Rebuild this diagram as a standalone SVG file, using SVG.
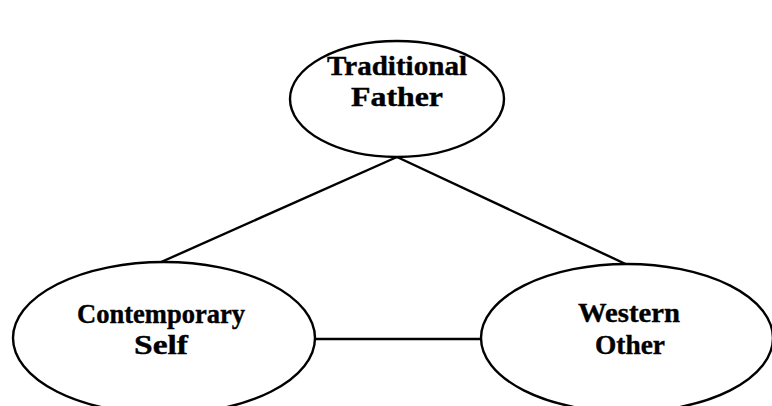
<svg xmlns="http://www.w3.org/2000/svg" width="772" height="406" viewBox="0 0 772 406">
<style>
.node ellipse{fill:#fff;stroke:#000;stroke-width:2.4}
.lbl{font-family:"Liberation Serif","Times New Roman",serif;font-weight:bold;font-size:28px;fill:#000;text-anchor:middle;stroke:#000;stroke-width:0.4}
.conn line{stroke:#000;stroke-width:2.4}
</style>
<rect width="772" height="406" fill="#fff"/>
<g class="conn">
<line x1="397" y1="157" x2="150" y2="267"/>
<line x1="397" y1="157" x2="632" y2="267"/>
<line x1="315" y1="339" x2="481" y2="339"/>
</g>
<g id="traditional-father" class="node">
<ellipse cx="397" cy="99" rx="107" ry="58"/>
<text class="lbl" x="397" y="75" textLength="140" lengthAdjust="spacingAndGlyphs">Traditional</text>
<text class="lbl" x="397" y="106" textLength="92" lengthAdjust="spacingAndGlyphs">Father</text>
</g>
<g id="contemporary-self" class="node">
<ellipse cx="164" cy="338" rx="151" ry="76"/>
<text class="lbl" x="161" y="323" textLength="168" lengthAdjust="spacingAndGlyphs">Contemporary</text>
<text class="lbl" x="161" y="354" textLength="54" lengthAdjust="spacingAndGlyphs">Self</text>
</g>
<g id="western-other" class="node">
<ellipse cx="627" cy="338" rx="146" ry="74"/>
<text class="lbl" x="629" y="322" textLength="102" lengthAdjust="spacingAndGlyphs">Western</text>
<text class="lbl" x="630" y="354" textLength="70" lengthAdjust="spacingAndGlyphs">Other</text>
</g>
</svg>
